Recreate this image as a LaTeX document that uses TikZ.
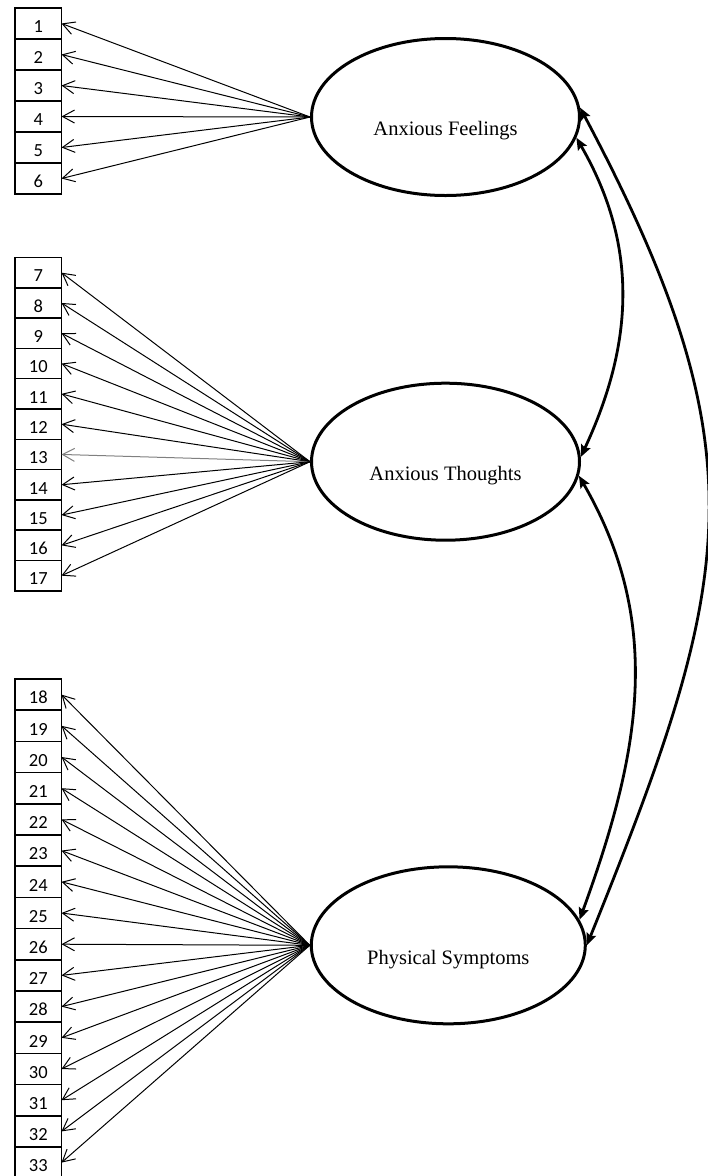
\documentclass[tikz,border=0pt]{standalone}
\usepackage{fontspec}
\setmainfont{Liberation Serif}
\newfontfamily\itemfont{Carlito}
\usetikzlibrary{arrows.meta,chains,positioning,scopes,shapes.geometric}

\begin{document}
\begin{tikzpicture}[
  x = 1pt, y = 1pt,
  node distance = 0pt and 0pt,
  base/.style = {
    rectangle,
    draw,
    line width=1.5pt,
    outer sep=0pt,
    inner sep=0pt,
    minimum width=46.5pt,
    text height=18.5pt,
    text depth=0pt,
    font=\itemfont\fontsize{18.5}{18.5}\selectfont
  },
  box/.style = {base, minimum height=#1, on chain},
  latent/.style = {
    ellipse,
    draw,
    line width=3pt,
    inner sep=0pt,
    minimum width=#1,
    minimum height=157pt
  },
  latent/.default = 268pt,
  lbl/.style = {font=\fontsize{20.5}{20.5}\selectfont, yshift=-14pt},
  arr/.style = {line width=1pt, draw=#1, -{Straight Barb[length=12pt,width=13pt]}},
  arr/.default = black,
  cov/.style = {line width=2.8pt,
    {Stealth[length=12pt,width=10pt,inset=2pt]}-{Stealth[length=12pt,width=10pt,inset=2pt]}},
  ]
  \path[use as bounding box] (0,0) rectangle (708,-1176);
  {
    [start chain=going below]
    \coordinate[on chain] (grp1) at (38.25,-8);
    \node[box=31pt] (i1) {1};
    \node[box=31pt] (i2) {2};
    \node[box=31pt] (i3) {3};
    \node[box=31pt] (i4) {4};
    \node[box=31pt] (i5) {5};
    \node[box=31pt] (i6) {6};
  }
  {
    [start chain=going below]
    \coordinate[on chain] (grp2) at (38.25,-257.5);
    \node[box=30.3pt] (i7) {7};
    \node[box=30.3pt] (i8) {8};
    \node[box=30.3pt] (i9) {9};
    \node[box=30.3pt] (i10) {10};
    \node[box=30.3pt] (i11) {11};
    \node[box=30.3pt] (i12) {12};
    \node[box=30.3pt] (i13) {13};
    \node[box=30.3pt] (i14) {14};
    \node[box=30.3pt] (i15) {15};
    \node[box=30.3pt] (i16) {16};
    \node[box=30.3pt] (i17) {17};
  }
  {
    [start chain=going below]
    \coordinate[on chain] (grp3) at (38.25,-679);
    \node[box=31.2pt] (i18) {18};
    \node[box=31.2pt] (i19) {19};
    \node[box=31.2pt] (i20) {20};
    \node[box=31.2pt] (i21) {21};
    \node[box=31.2pt] (i22) {22};
    \node[box=31.2pt] (i23) {23};
    \node[box=31.2pt] (i24) {24};
    \node[box=31.2pt] (i25) {25};
    \node[box=31.2pt] (i26) {26};
    \node[box=31.2pt] (i27) {27};
    \node[box=31.2pt] (i28) {28};
    \node[box=31.2pt] (i29) {29};
    \node[box=31.2pt] (i30) {30};
    \node[box=31.2pt] (i31) {31};
    \node[box=31.2pt] (i32) {32};
    \node[box=31.2pt] (i33) {33};
  }
  % latent factors
  \node[latent, label={[lbl]center:Anxious Feelings}] (feel) at (445.5,-117) {};
  \node[latent, label={[lbl]center:Anxious Thoughts}] (thought) at (445.5,-461.7) {};
  \node[latent=274pt, label={[lbl]center:Physical Symptoms}] (symptom) at (448.3,-945.3) {};
  % loadings
  \draw[arr] (feel.west) -- (i1.east);
  \draw[arr] (feel.west) -- (i2.east);
  \draw[arr] (feel.west) -- (i3.east);
  \draw[arr] (feel.west) -- (i4.east);
  \draw[arr] (feel.west) -- (i5.east);
  \draw[arr] (feel.west) -- (i6.east);
  \draw[arr] (thought.west) -- (i7.east);
  \draw[arr] (thought.west) -- (i8.east);
  \draw[arr] (thought.west) -- (i9.east);
  \draw[arr] (thought.west) -- (i10.east);
  \draw[arr] (thought.west) -- (i11.east);
  \draw[arr] (thought.west) -- (i12.east);
  \draw[arr=gray] (thought.west) -- (i13.east);
  \draw[arr] (thought.west) -- (i14.east);
  \draw[arr] (thought.west) -- (i15.east);
  \draw[arr] (thought.west) -- (i16.east);
  \draw[arr] (thought.west) -- (i17.east);
  \draw[arr] (symptom.west) -- (i18.east);
  \draw[arr] (symptom.west) -- (i19.east);
  \draw[arr] (symptom.west) -- (i20.east);
  \draw[arr] (symptom.west) -- (i21.east);
  \draw[arr] (symptom.west) -- (i22.east);
  \draw[arr] (symptom.west) -- (i23.east);
  \draw[arr] (symptom.west) -- (i24.east);
  \draw[arr] (symptom.west) -- (i25.east);
  \draw[arr] (symptom.west) -- (i26.east);
  \draw[arr] (symptom.west) -- (i27.east);
  \draw[arr] (symptom.west) -- (i28.east);
  \draw[arr] (symptom.west) -- (i29.east);
  \draw[arr] (symptom.west) -- (i30.east);
  \draw[arr] (symptom.west) -- (i31.east);
  \draw[arr] (symptom.west) -- (i32.east);
  \draw[arr] (symptom.west) -- (i33.east);
  % covariances
  \draw[cov] (feel.-9) to[out=-60, in=65] (thought.2);
  \draw[cov] (thought.-6) to[out=-60, in=70] (symptom.11);
  \draw[cov] (feel.4) to[out=-62, in=68, looseness=1.2] (symptom.0);
\end{tikzpicture}
\end{document}
